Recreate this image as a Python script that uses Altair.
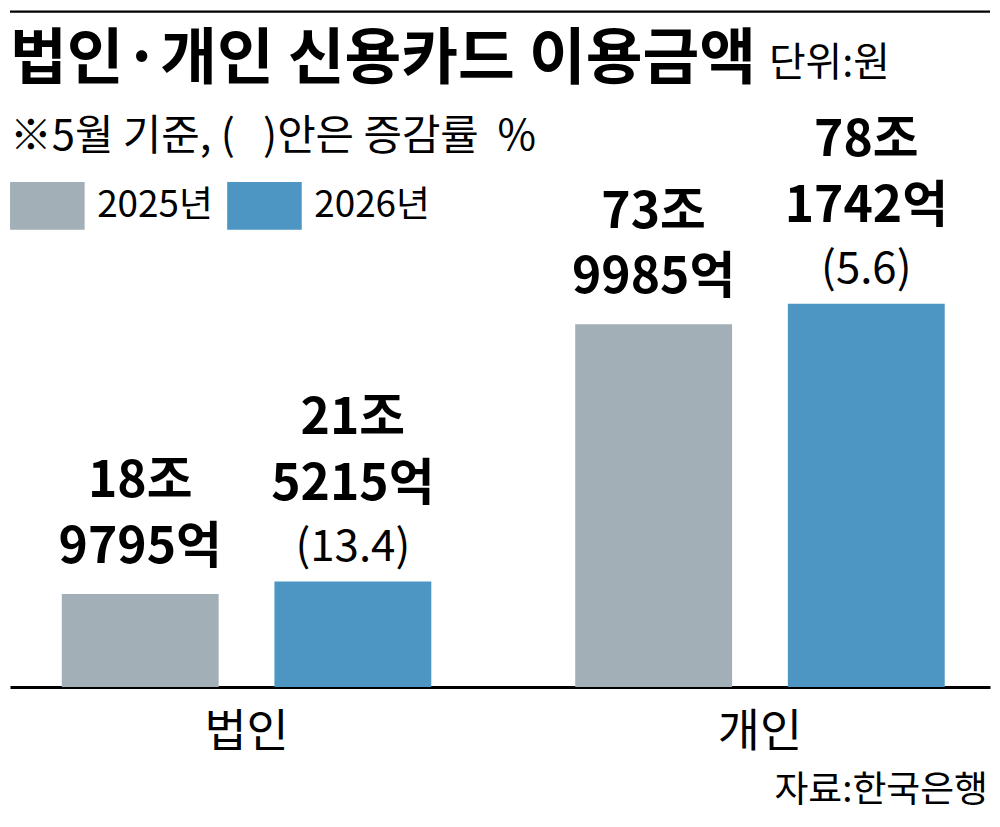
import altair as alt
import pandas as pd

FONT = "'Noto Sans CJK KR', sans-serif"

# 단위: 조원 (5월 기준)
categories = ['법인', '개인']
years = ['2025년', '2026년']
amount_2025 = [18.9795, 73.9985]
amount_2026 = [21.5215, 78.1742]
growth_2026 = ['13.4', '5.6']
colors = ['#A3AFB7', '#4D96C4']

title_text = '법인·개인 신용카드 이용금액'
unit_text = '단위:원'
note_text = '※5월 기준, (\u00a0\u00a0\u00a0)안은 증감률\u00a0\u00a0%'
source_text = '자료:한국은행'

rows = []
for i, cat in enumerate(categories):
    pairs = [(years[0], amount_2025[i], ''), (years[1], amount_2026[i], growth_2026[i])]
    for year, amt, growth in pairs:
        jo = int(amt)
        eok = round((amt - jo) * 10000)
        rows.append({
            'category': cat,
            'year': year,
            'amount': amt,
            'label': f'{jo}조\n{eok}억',
            'growth': f'({growth})' if growth else '',
        })
df = pd.DataFrame(rows)

W, H = 984, 679

base = alt.Chart(df).encode(
    x=alt.X('category:N', sort=categories,
            scale=alt.Scale(paddingInner=0.12, paddingOuter=0.0144, align=0.72),
            axis=alt.Axis(title=None, labelAngle=0, labelFont=FONT, labelFontSize=46,
                          labelColor='black', ticks=False, tickSize=0,
                          labelBaseline='middle', labelPadding=46,
                          domainColor='black', domainWidth=3)),
    xOffset=alt.XOffset('year:N', sort=years,
                        scale=alt.Scale(paddingInner=0.2623, paddingOuter=0.1935)),
    y=alt.Y('amount:Q', scale=alt.Scale(domain=[0, 138]), axis=None),
)

bars = base.mark_bar().encode(
    color=alt.Color('year:N', sort=years,
                    scale=alt.Scale(domain=years, range=colors),
                    legend=alt.Legend(title=None, orient='none', legendX=13.5, legendY=172,
                                      direction='horizontal',
                                      symbolType='M-1.56,-1H1.56V1H-1.56Z',
                                      symbolSize=2304, symbolStrokeWidth=0,
                                      symbolOpacity=1, labelFont=FONT,
                                      labelFontSize=37, labelColor='black',
                                      labelOffset=26, columnPadding=13))
)

# 첫 줄(조) 기준 위치, 둘째 줄(억)은 lineHeight 만큼 아래
label_plain = base.mark_text(
    font=FONT, fontSize=50, fontWeight='bold', lineBreak='\n', lineHeight=66,
    baseline='middle', dy=-112, color='black'
).encode(text='label:N').transform_filter("datum.growth == ''")

label_growth = base.mark_text(
    font=FONT, fontSize=50, fontWeight='bold', lineBreak='\n', lineHeight=66,
    baseline='middle', dy=-163, color='black'
).encode(text='label:N').transform_filter("datum.growth != ''")

growth = base.mark_text(
    font=FONT, fontSize=44, baseline='middle', dy=-34, color='black'
).encode(text='growth:N').transform_filter("datum.growth != ''")

top_rule = alt.Chart(pd.DataFrame({'t': ['']})).mark_rule(color='black', strokeWidth=2.5).encode(
    x=alt.value(0), x2=alt.value(W), y=alt.value(1)
)
title = alt.Chart(pd.DataFrame({'t': [title_text]})).mark_text(
    align='left', baseline='middle', font=FONT, fontSize=62, fontWeight='bold', color='black'
).encode(x=alt.value(0), y=alt.value(50), text='t:N')
unit = alt.Chart(pd.DataFrame({'t': [unit_text]})).mark_text(
    align='left', baseline='middle', font=FONT, fontSize=40, color='black'
).encode(x=alt.value(762), y=alt.value(54), text='t:N')
note = alt.Chart(pd.DataFrame({'t': [note_text]})).mark_text(
    align='left', baseline='middle', font=FONT, fontSize=42, color='black'
).encode(x=alt.value(0), y=alt.value(127), text='t:N')
source = alt.Chart(pd.DataFrame({'t': [source_text]})).mark_text(
    align='right', baseline='middle', font=FONT, fontSize=37, color='black'
).encode(x=alt.value(W - 2), y=alt.value(784), text='t:N')

chart = alt.layer(
    top_rule, title, unit, note, bars, label_plain, label_growth, growth, source
).properties(
    width=W, height=H, background='white',
    padding={'left': 0, 'top': 0, 'right': 0, 'bottom': 6}
).configure_view(stroke=None)

chart.save("out.html", embed_options={"renderer": "svg", "actions": False})
